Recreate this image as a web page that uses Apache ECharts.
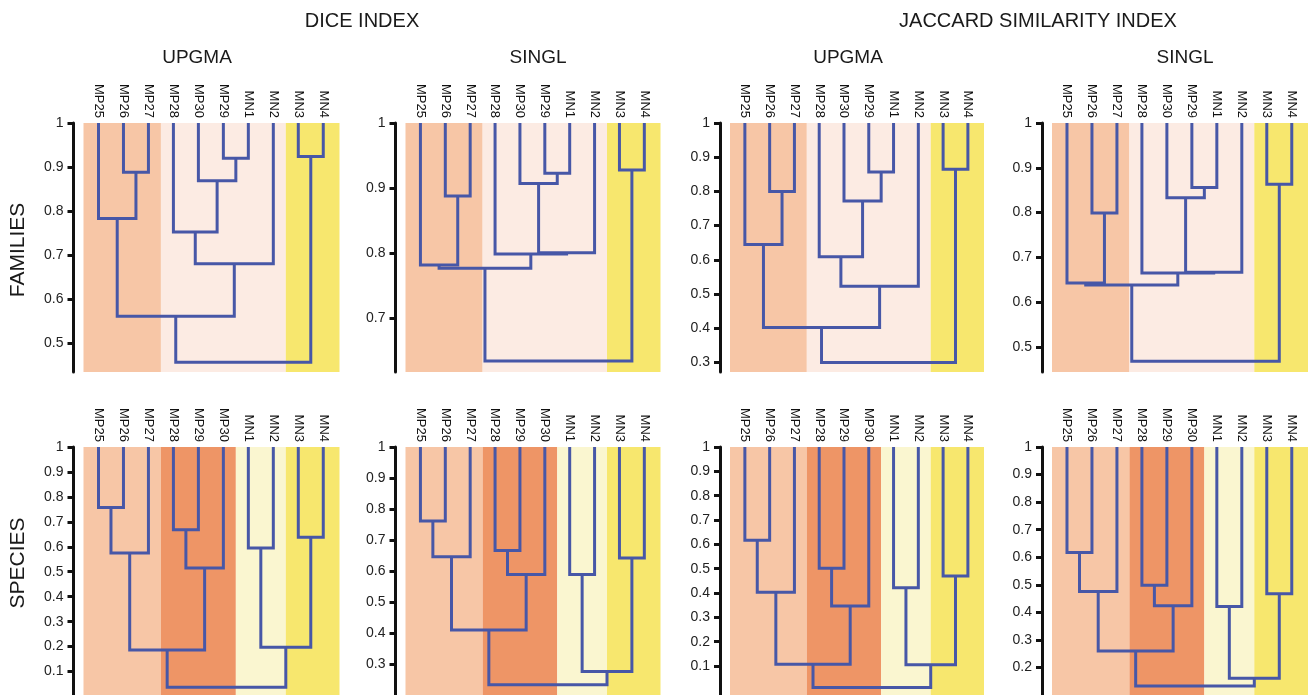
<!DOCTYPE html>
<html>
<head>
<meta charset="utf-8">
<script src="https://cdn.jsdelivr.net/npm/echarts@6/dist/echarts.min.js"></script>
<style>
  html, body { margin: 0; padding: 0; background: #ffffff; }
  #chart { width: 1309px; height: 695px; }
</style>
</head>
<body>
<div id="chart"></div>
<script>
// Leaf order along the top of each dendrogram
const familyOrder  = ['MP25', 'MP26', 'MP27', 'MP28', 'MP30', 'MP29', 'MN1', 'MN2', 'MN3', 'MN4'];
const speciesOrder = ['MP25', 'MP26', 'MP27', 'MP28', 'MP29', 'MP30', 'MN1', 'MN2', 'MN3', 'MN4'];

// Merge steps: [child A, child B, similarity]; 'nK' refers to the K-th merge
const diceUpgmaFamilies = [
  ['MP26', 'MP27', 0.888], ['MP25', 'n0', 0.783], ['MP29', 'MN1', 0.920],
  ['MP30', 'n2', 0.869], ['MP28', 'n3', 0.752], ['n4', 'MN2', 0.680],
  ['n1', 'n5', 0.561], ['MN3', 'MN4', 0.924], ['n6', 'n7', 0.456]
];
const diceSinglFamilies = [
  ['MP26', 'MP27', 0.888], ['MP25', 'n0', 0.782], ['MP29', 'MN1', 0.923],
  ['MP30', 'n2', 0.907], ['n3', 'MN2', 0.801], ['MP28', 'n4', 0.799],
  ['n1', 'n5', 0.777], ['MN3', 'MN4', 0.928], ['n6', 'n7', 0.635]
];
const jaccardUpgmaFamilies = [
  ['MP26', 'MP27', 0.800], ['MP25', 'n0', 0.645], ['MP29', 'MN1', 0.857],
  ['MP30', 'n2', 0.772], ['MP28', 'n3', 0.609], ['n4', 'MN2', 0.523],
  ['n1', 'n5', 0.402], ['MN3', 'MN4', 0.865], ['n6', 'n7', 0.300]
];
const jaccardSinglFamilies = [
  ['MP26', 'MP27', 0.799], ['MP25', 'n0', 0.643], ['MP29', 'MN1', 0.856],
  ['MP30', 'n2', 0.833], ['n3', 'MN2', 0.667], ['MP28', 'n4', 0.665],
  ['n1', 'n5', 0.638], ['MN3', 'MN4', 0.863], ['n6', 'n7', 0.468]
];
const diceUpgmaSpecies = [
  ['MP25', 'MP26', 0.758], ['n0', 'MP27', 0.575], ['MP28', 'MP29', 0.668],
  ['n2', 'MP30', 0.515], ['n1', 'n3', 0.186], ['MN1', 'MN2', 0.595],
  ['MN3', 'MN4', 0.638], ['n5', 'n6', 0.197], ['n4', 'n7', 0.037]
];
const diceSinglSpecies = [
  ['MP25', 'MP26', 0.762], ['n0', 'MP27', 0.647], ['MP28', 'MP29', 0.667],
  ['n2', 'MP30', 0.590], ['n1', 'n3', 0.411], ['MN1', 'MN2', 0.590],
  ['MN3', 'MN4', 0.643], ['n5', 'n6', 0.278], ['n4', 'n7', 0.235]
];
const jaccardUpgmaSpecies = [
  ['MP25', 'MP26', 0.617], ['n0', 'MP27', 0.403], ['MP28', 'MP29', 0.502],
  ['n2', 'MP30', 0.347], ['n1', 'n3', 0.107], ['MN1', 'MN2', 0.422],
  ['MN3', 'MN4', 0.470], ['n5', 'n6', 0.105], ['n4', 'n7', 0.012]
];
const jaccardSinglSpecies = [
  ['MP25', 'MP26', 0.617], ['n0', 'MP27', 0.476], ['MP28', 'MP29', 0.498],
  ['n2', 'MP30', 0.424], ['n1', 'n3', 0.260], ['MN1', 'MN2', 0.421],
  ['MN3', 'MN4', 0.467], ['n5', 'n6', 0.161], ['n4', 'n7', 0.133]
];

// Leaf groups shaded behind the trees (first and last leaf index)
const familyGroups  = [[0, 2], [3, 7], [8, 9]];
const speciesGroups = [[0, 2], [3, 5], [6, 7], [8, 9]];

// Similarity tick labels
const ticksDiceUpgmaFam    = [0.5, 0.6, 0.7, 0.8, 0.9, 1];
const ticksDiceSinglFam    = [0.7, 0.8, 0.9, 1];
const ticksJaccardUpgmaFam = [0.3, 0.4, 0.5, 0.6, 0.7, 0.8, 0.9, 1];
const ticksJaccardSinglFam = [0.5, 0.6, 0.7, 0.8, 0.9, 1];
const ticksDiceUpgmaSp     = [0.1, 0.2, 0.3, 0.4, 0.5, 0.6, 0.7, 0.8, 0.9, 1];
const ticksDiceSinglSp     = [0.3, 0.4, 0.5, 0.6, 0.7, 0.8, 0.9, 1];
const ticksJaccardUpgmaSp  = [0.1, 0.2, 0.3, 0.4, 0.5, 0.6, 0.7, 0.8, 0.9, 1];
const ticksJaccardSinglSp  = [0.2, 0.3, 0.4, 0.5, 0.6, 0.7, 0.8, 0.9, 1];

// Styling
const LINE_COLOR = '#4757a7';
const familyColors  = ['#f7c6a6', '#fcebe3', '#f7e76e'];
const speciesColors = ['#f7c6a6', '#ee9566', '#faf6d0', '#f7e76e'];
const FONT = '"Liberation Sans", Arial, Helvetica, sans-serif';

const columns = [
  { left: 83.5, width: 256 },
  { left: 405.5, width: 255 },
  { left: 730, width: 254 },
  { left: 1052, width: 256 }
];
const rows = [
  { top: 123, height: 249 },
  { top: 447, height: 248 }
];

const panels = [
  { tree: diceUpgmaFamilies,    order: familyOrder,  groups: familyGroups,  colors: familyColors,  ticks: ticksDiceUpgmaFam,    yMin: 0.434, col: 0, row: 0 },
  { tree: diceSinglFamilies,    order: familyOrder,  groups: familyGroups,  colors: familyColors,  ticks: ticksDiceSinglFam,    yMin: 0.618, col: 1, row: 0 },
  { tree: jaccardUpgmaFamilies, order: familyOrder,  groups: familyGroups,  colors: familyColors,  ticks: ticksJaccardUpgmaFam, yMin: 0.272, col: 2, row: 0 },
  { tree: jaccardSinglFamilies, order: familyOrder,  groups: familyGroups,  colors: familyColors,  ticks: ticksJaccardSinglFam, yMin: 0.444, col: 3, row: 0 },
  { tree: diceUpgmaSpecies,     order: speciesOrder, groups: speciesGroups, colors: speciesColors, ticks: ticksDiceUpgmaSp,     yMin: 0.006, col: 0, row: 1 },
  { tree: diceSinglSpecies,     order: speciesOrder, groups: speciesGroups, colors: speciesColors, ticks: ticksDiceSinglSp,     yMin: 0.202, col: 1, row: 1 },
  { tree: jaccardUpgmaSpecies,  order: speciesOrder, groups: speciesGroups, colors: speciesColors, ticks: ticksJaccardUpgmaSp,  yMin: -0.019, col: 2, row: 1 },
  { tree: jaccardSinglSpecies,  order: speciesOrder, groups: speciesGroups, colors: speciesColors, ticks: ticksJaccardSinglSp,  yMin: 0.100, col: 3, row: 1 }
];

const X_MIN = -0.6, X_MAX = 9.65;

// Turn merge steps into elbow polylines (leaf at its index, node at the midpoint of its children)
function dendrogramSegments(order, merges) {
  const pos = {};
  order.forEach((name, i) => { pos[name] = { x: i, y: 1 }; });
  return merges.map((m, k) => {
    const a = pos[m[0]], b = pos[m[1]], h = m[2];
    pos['n' + k] = { x: (a.x + b.x) / 2, y: h };
    return { coords: [[a.x, a.y], [a.x, h], [b.x, h], [b.x, b.y]] };
  });
}

function groupBands(groups) {
  return groups.map((g, i) => [
    i === 0 ? X_MIN : g[0] - 0.5,
    i === groups.length - 1 ? X_MAX : g[1] + 0.5,
    i
  ]);
}

const grid = [], xAxis = [], yAxis = [], series = [];
const leafIdx = [0, 1, 2, 3, 4, 5, 6, 7, 8, 9];

panels.forEach((p, k) => {
  const c = columns[p.col], r = rows[p.row];
  grid.push({ left: c.left, width: c.width, top: r.top, height: r.height, containLabel: false });
  xAxis.push({
    type: 'value', gridIndex: k, position: 'top', min: X_MIN, max: X_MAX,
    axisLine: { show: false, onZero: false }, axisTick: { show: false }, splitLine: { show: false },
    axisLabel: {
      customValues: leafIdx, rotate: 90, margin: 5,
      formatter: v => p.order[Math.round(v)],
      fontSize: 13, fontFamily: FONT, color: '#111'
    }
  });
  yAxis.push({
    type: 'value', gridIndex: k, position: 'left', min: p.yMin, max: 1, offset: 10,
    axisLine: { show: true, onZero: false, lineStyle: { color: '#111', width: 3 } },
    axisTick: { show: true, length: 6, customValues: p.ticks, lineStyle: { color: '#111', width: 3 } },
    axisLabel: {
      customValues: p.ticks, margin: 10,
      formatter: v => (Math.abs(v - 1) < 1e-9 ? '1' : v.toFixed(1)),
      fontSize: 14, fontFamily: FONT, color: '#222'
    },
    splitLine: { show: false }
  });
  const yMin = p.yMin;
  series.push({
    type: 'custom', xAxisIndex: k, yAxisIndex: k, silent: true, clip: false, z: 1,
    data: groupBands(p.groups),
    renderItem: (params, api) => {
      const p0 = api.coord([api.value(0), 1]);
      const p1 = api.coord([api.value(1), yMin]);
      return {
        type: 'rect',
        shape: { x: p0[0], y: p0[1], width: p1[0] - p0[0], height: p1[1] - p0[1] },
        style: { fill: p.colors[api.value(2)] }
      };
    }
  });
  series.push({
    type: 'lines', coordinateSystem: 'cartesian2d', xAxisIndex: k, yAxisIndex: k,
    polyline: true, silent: true, z: 3,
    lineStyle: { color: LINE_COLOR, width: 3, opacity: 1, join: 'miter' },
    data: dendrogramSegments(p.order, p.tree)
  });
});

const textStyle = (text, x, y, size, rotation) => ({
  type: 'text', x: x, y: y, rotation: rotation || 0, silent: true,
  style: { text: text, font: size + 'px ' + FONT, fill: '#1a1a1a', textAlign: 'center', textVerticalAlign: 'middle' }
});

const graphic = [
  textStyle('DICE INDEX', 362, 21, 20),
  textStyle('JACCARD SIMILARITY INDEX', 1038, 21, 20),
  textStyle('UPGMA', 197, 58, 19),
  textStyle('SINGL', 538, 58, 19),
  textStyle('UPGMA', 848, 58, 19),
  textStyle('SINGL', 1185, 58, 19),
  textStyle('FAMILIES', 18, 250, 21, Math.PI / 2),
  textStyle('SPECIES', 18, 563, 21, Math.PI / 2)
];

const chart = echarts.init(document.getElementById('chart'), null, { renderer: 'canvas' });
chart.setOption({
  animation: false,
  backgroundColor: '#ffffff',
  grid: grid,
  xAxis: xAxis,
  yAxis: yAxis,
  series: series,
  graphic: graphic
});
</script>
</body>
</html>
